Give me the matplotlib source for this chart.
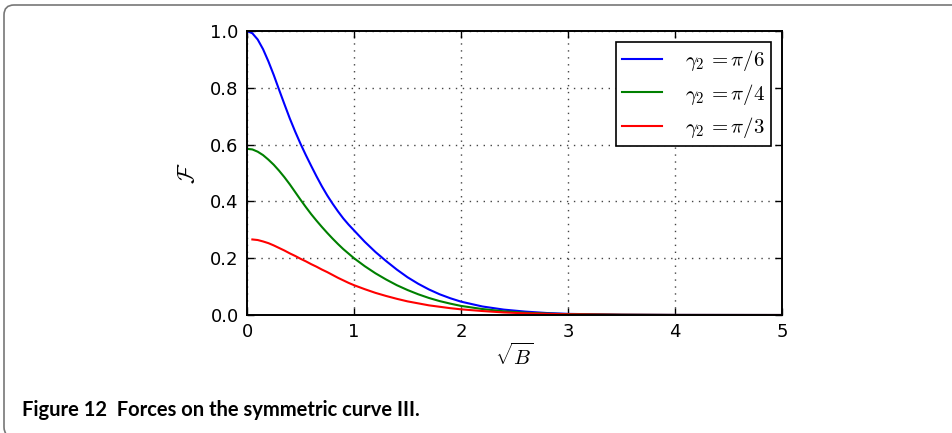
import matplotlib
matplotlib.use("Agg")
import matplotlib.pyplot as plt
from matplotlib.patches import FancyBboxPatch
from matplotlib.transforms import IdentityTransform

# --- data (x = sqrt(B)) ---
x_blue = [0.0, 0.05, 0.1, 0.15, 0.2, 0.25, 0.3, 0.35, 0.4, 0.45, 0.5, 0.55, 0.6, 0.65,
          0.7, 0.75, 0.8, 0.85, 0.9, 0.95, 1.0, 1.1, 1.2, 1.3, 1.4, 1.5, 1.6, 1.7, 1.8,
          1.9, 2.0, 2.2, 2.4, 2.6, 2.8, 3.0, 3.5, 4.0, 5.0]
f_blue = [1.000, 0.992, 0.970, 0.936, 0.893, 0.845, 0.793, 0.742, 0.692, 0.646, 0.603,
          0.563, 0.525, 0.488, 0.453, 0.421, 0.392, 0.365, 0.340, 0.318, 0.298, 0.258,
          0.222, 0.190, 0.160, 0.133, 0.110, 0.090, 0.073, 0.059, 0.047, 0.030, 0.019,
          0.012, 0.007, 0.004, 0.001, 0.0003, 0.0]

x_green = x_blue
f_green = [0.585, 0.583, 0.575, 0.563, 0.547, 0.529, 0.508, 0.485, 0.460, 0.433, 0.406,
           0.380, 0.355, 0.332, 0.310, 0.289, 0.269, 0.250, 0.232, 0.216, 0.200, 0.172,
           0.147, 0.125, 0.105, 0.088, 0.073, 0.060, 0.049, 0.040, 0.032, 0.021, 0.013,
           0.008, 0.005, 0.003, 0.001, 0.0002, 0.0]

x_red = [0.05, 0.1, 0.15, 0.2, 0.25, 0.3, 0.35, 0.4, 0.45, 0.5, 0.55, 0.6, 0.65,
         0.7, 0.75, 0.8, 0.85, 0.9, 0.95, 1.0, 1.1, 1.2, 1.3, 1.4, 1.5, 1.6, 1.7, 1.8,
         1.9, 2.0, 2.2, 2.4, 2.6, 2.8, 3.0, 3.5, 4.0, 5.0]
f_red = [0.266, 0.264, 0.259, 0.253, 0.245, 0.236, 0.227, 0.217, 0.208, 0.198, 0.189,
         0.179, 0.170, 0.160, 0.151, 0.141, 0.131, 0.122, 0.113, 0.105, 0.091, 0.078,
         0.067, 0.057, 0.048, 0.041, 0.034, 0.029, 0.024, 0.020, 0.014, 0.009, 0.006,
         0.004, 0.0025, 0.0008, 0.0002, 0.0]

labels = [r"$\gamma_2\,{=}\pi/6$", r"$\gamma_2\,{=}\pi/4$", r"$\gamma_2\,{=}\pi/3$"]
caption = "Figure 12  Forces on the symmetric curve III."

plt.rcParams['mathtext.fontset'] = 'cm'

fig = plt.figure(figsize=(9.52, 4.33), dpi=100)
ax = fig.add_axes([247 / 952, 1 - 315 / 433, (782 - 247) / 952, (315 - 31) / 433])

ax.plot(x_blue, f_blue, color='#0000ff', lw=1.5, label=labels[0])
ax.plot(x_green, f_green, color='#008000', lw=1.5, label=labels[1])
ax.plot(x_red, f_red, color='#ff0000', lw=1.5, label=labels[2])

ax.set_xlim(0, 5)
ax.set_ylim(0, 1.0)
ax.set_xticks([0, 1, 2, 3, 4, 5])
ax.set_yticks([0.0, 0.2, 0.4, 0.6, 0.8, 1.0])
ax.set_yticklabels(["0.0", "0.2", "0.4", "0.6", "0.8", "1.0"])

ax.grid(True, color='#444444', linestyle=(0, (1, 4)), lw=1.0)
ax.tick_params(direction='in', top=True, right=True, length=5, width=1,
               labelsize=13, pad=6)
for sp in ax.spines.values():
    sp.set_linewidth(1.4)

ax.set_xlabel(r"$\sqrt{B}$", fontsize=15, labelpad=1)
ax.set_ylabel(r"$\mathcal{F}$", fontsize=17, labelpad=8)

leg = ax.legend(loc='upper right', fontsize=15, fancybox=False, framealpha=1,
                edgecolor='black', handlelength=1.9, borderpad=0.3,
                labelspacing=0.4, borderaxespad=0.53, handletextpad=1.1)
leg.get_frame().set_linewidth(1.2)

# outer rounded frame of the figure panel
frame = FancyBboxPatch((4, -4), 1000, 433 - 5 + 4, boxstyle="round,pad=0,rounding_size=10",
                       transform=IdentityTransform(), facecolor='none',
                       edgecolor='#777777', lw=1.2)
fig.patches.append(frame)

fig.text(22 / 952, 1 - 410 / 433, caption, fontsize=14.5, fontweight='bold',
         family='Lato', va='center', ha='left')

fig.savefig("out.png", dpi=100)
